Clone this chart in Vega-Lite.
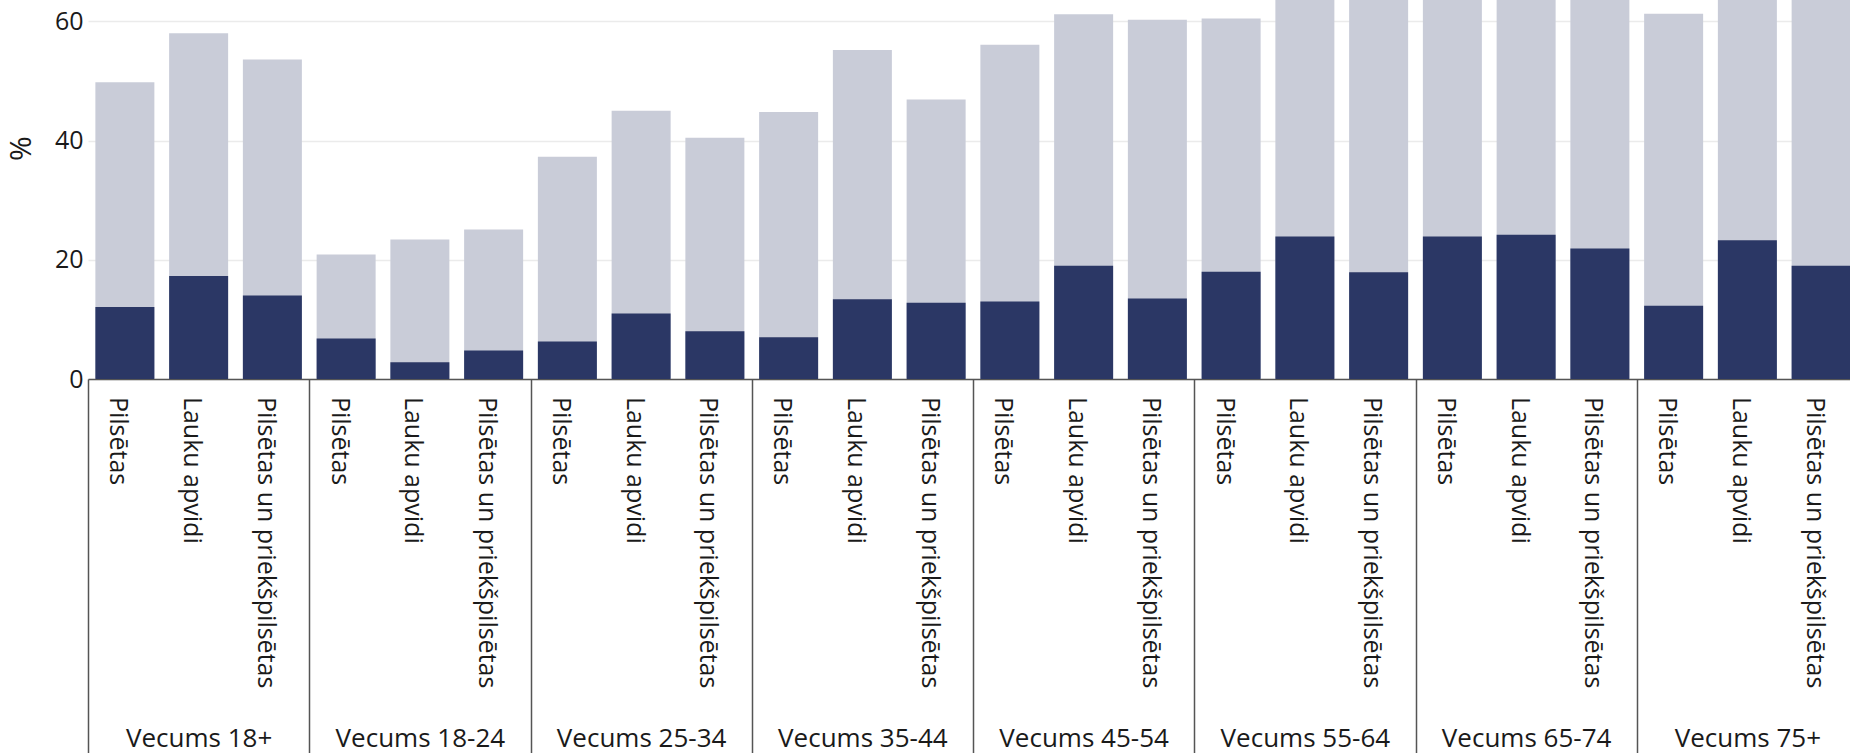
{
  "$schema": "https://vega.github.io/schema/vega-lite/v6.json",
  "width": 1762,
  "height": 379,
  "autosize": {"type": "none"},
  "padding": {"left": 88, "top": 0, "right": 0, "bottom": 374},
  "config": {"view": {"stroke": null}, "font": "Open Sans"},
  "data": {
    "values": [
      {"group": "Vecums 18+", "cat": "Pilsētas", "total": 49.8, "dark": 12.1},
      {"group": "Vecums 18+", "cat": "Lauku apvidi", "total": 58.0, "dark": 17.3},
      {"group": "Vecums 18+", "cat": "Pilsētas un priekšpilsētas", "total": 53.6, "dark": 14.0},
      {"group": "Vecums 18-24", "cat": "Pilsētas", "total": 20.9, "dark": 6.8},
      {"group": "Vecums 18-24", "cat": "Lauku apvidi", "total": 23.4, "dark": 2.8},
      {"group": "Vecums 18-24", "cat": "Pilsētas un priekšpilsētas", "total": 25.1, "dark": 4.8},
      {"group": "Vecums 25-34", "cat": "Pilsētas", "total": 37.3, "dark": 6.3},
      {"group": "Vecums 25-34", "cat": "Lauku apvidi", "total": 45.0, "dark": 11.0},
      {"group": "Vecums 25-34", "cat": "Pilsētas un priekšpilsētas", "total": 40.5, "dark": 8.0},
      {"group": "Vecums 35-44", "cat": "Pilsētas", "total": 44.8, "dark": 7.0},
      {"group": "Vecums 35-44", "cat": "Lauku apvidi", "total": 55.2, "dark": 13.4},
      {"group": "Vecums 35-44", "cat": "Pilsētas un priekšpilsētas", "total": 46.9, "dark": 12.8},
      {"group": "Vecums 45-54", "cat": "Pilsētas", "total": 56.1, "dark": 13.0},
      {"group": "Vecums 45-54", "cat": "Lauku apvidi", "total": 61.2, "dark": 19.0},
      {"group": "Vecums 45-54", "cat": "Pilsētas un priekšpilsētas", "total": 60.3, "dark": 13.5},
      {"group": "Vecums 55-64", "cat": "Pilsētas", "total": 60.5, "dark": 18.0},
      {"group": "Vecums 55-64", "cat": "Lauku apvidi", "total": 66.0, "dark": 23.9},
      {"group": "Vecums 55-64", "cat": "Pilsētas un priekšpilsētas", "total": 67.0, "dark": 17.9},
      {"group": "Vecums 65-74", "cat": "Pilsētas", "total": 65.0, "dark": 23.9},
      {"group": "Vecums 65-74", "cat": "Lauku apvidi", "total": 66.0, "dark": 24.2},
      {"group": "Vecums 65-74", "cat": "Pilsētas un priekšpilsētas", "total": 68.0, "dark": 21.9},
      {"group": "Vecums 75+", "cat": "Pilsētas", "total": 61.3, "dark": 12.3},
      {"group": "Vecums 75+", "cat": "Lauku apvidi", "total": 70.0, "dark": 23.3},
      {"group": "Vecums 75+", "cat": "Pilsētas un priekšpilsētas", "total": 72.0, "dark": 19.0}
    ]
  },
  "encoding": {
    "x": {
      "field": "group",
      "type": "nominal",
      "sort": ["Vecums 18+", "Vecums 18-24", "Vecums 25-34", "Vecums 35-44", "Vecums 45-54", "Vecums 55-64", "Vecums 65-74", "Vecums 75+"],
      "scale": {"paddingInner": 0, "paddingOuter": 0, "range": [0, 1770]},
      "axis": {
        "title": null,
        "labelAngle": 0,
        "tickBand": "extent",
        "ticks": true,
        "tickSize": 374,
        "tickColor": "#555555",
        "tickWidth": 1.5,
        "domainColor": "#555555",
        "domainWidth": 1.5,
        "labelFontSize": 26,
        "labelBaseline": "alphabetic",
        "labelPadding": -7,
        "labelColor": "#1a1a1a",
        "grid": false
      }
    },
    "xOffset": {
      "field": "cat",
      "type": "nominal",
      "sort": ["Pilsētas", "Lauku apvidi", "Pilsētas un priekšpilsētas"],
      "scale": {"paddingInner": 0.2, "paddingOuter": 0.1}
    }
  },
  "layer": [
    {
      "mark": {"type": "bar", "color": "#c9ccd8", "clip": true},
      "encoding": {
        "y": {
          "field": "total",
          "type": "quantitative",
          "scale": {"domain": [0, 63.6], "nice": false},
          "axis": {
            "title": "%",
            "titleFontSize": 30,
            "titleFontWeight": "normal",
            "titleColor": "#1a1a1a",
            "titleY": 148,
            "titlePadding": 18,
            "values": [0, 20, 40, 60],
            "labelFontSize": 25,
            "labelColor": "#1a1a1a",
            "labelPadding": 5,
            "ticks": false,
            "domain": false,
            "grid": true,
            "gridColor": "#ebebeb",
            "gridWidth": 1.5
          }
        }
      }
    },
    {
      "mark": {"type": "bar", "color": "#2b3765", "clip": true},
      "encoding": {"y": {"field": "dark", "type": "quantitative"}}
    },
    {
      "mark": {"type": "text", "angle": 90, "align": "left", "baseline": "alphabetic", "dy": 14.5, "fontSize": 25, "color": "#1a1a1a"},
      "encoding": {
        "text": {"field": "cat"},
        "y": {"datum": -3}
      }
    }
  ]
}
